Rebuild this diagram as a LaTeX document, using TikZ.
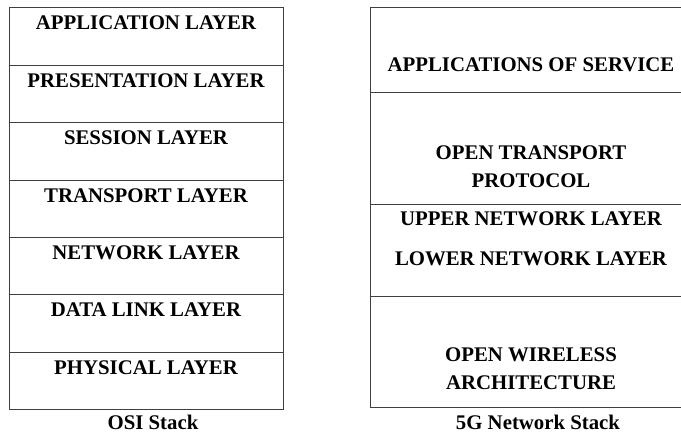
\documentclass[tikz,border=0pt]{standalone}
\usepackage{fontspec}
\setmainfont{Liberation Serif}[BoldFont={Liberation Serif Bold}]
\usetikzlibrary{positioning}

\begin{document}
\begin{tikzpicture}[x=1pt,y=1pt,node distance=0pt,
  font=\fontsize{20.8}{28}\selectfont\bfseries,
  osi/.style={draw=black!75,line width=1pt,rectangle,inner sep=0pt,outer sep=0pt,
    minimum width=274pt,text height=22pt,text depth=35.4pt},
  fiveg/.style={draw=black!75,line width=1pt,rectangle,inner sep=0pt,outer sep=0pt,
    minimum width=322pt,align=center}]
\useasboundingbox (0,0) rectangle (681,435);
% OSI stack
\node[osi,anchor=north west] (o_1) at (9,427) {APPLICATION LAYER};
\node[osi] (o_2) [below=of o_1] {PRESENTATION LAYER};
\node[osi] (o_3) [below=of o_2] {SESSION LAYER};
\node[osi] (o_4) [below=of o_3] {TRANSPORT LAYER};
\node[osi] (o_5) [below=of o_4] {NETWORK LAYER};
\node[osi] (o_6) [below=of o_5] {DATA LINK LAYER};
\node[osi] (o_7) [below=of o_6] {PHYSICAL LAYER};
\node[anchor=base] (osi_cap) at (153,5) {OSI Stack};
% 5G stack
\node[fiveg,anchor=north west,text height=64pt,text depth=21pt] (f_1) at (370,427) {APPLICATIONS OF SERVICE};
\node[fiveg,text height=95pt,text depth=17pt] (f_2) [below=of f_1] {OPEN TRANSPORT\\PROTOCOL};
\node[fiveg,text height=61pt,text depth=31pt] (f_3) [below=of f_2] {UPPER NETWORK LAYER\\[12pt]LOWER NETWORK LAYER};
\node[fiveg,text height=93pt,text depth=18pt] (f_4) [below=of f_3] {OPEN WIRELESS\\ARCHITECTURE};
\node[anchor=base] (fiveg_cap) at (538,5) {5G Network Stack};
\end{tikzpicture}
\end{document}
